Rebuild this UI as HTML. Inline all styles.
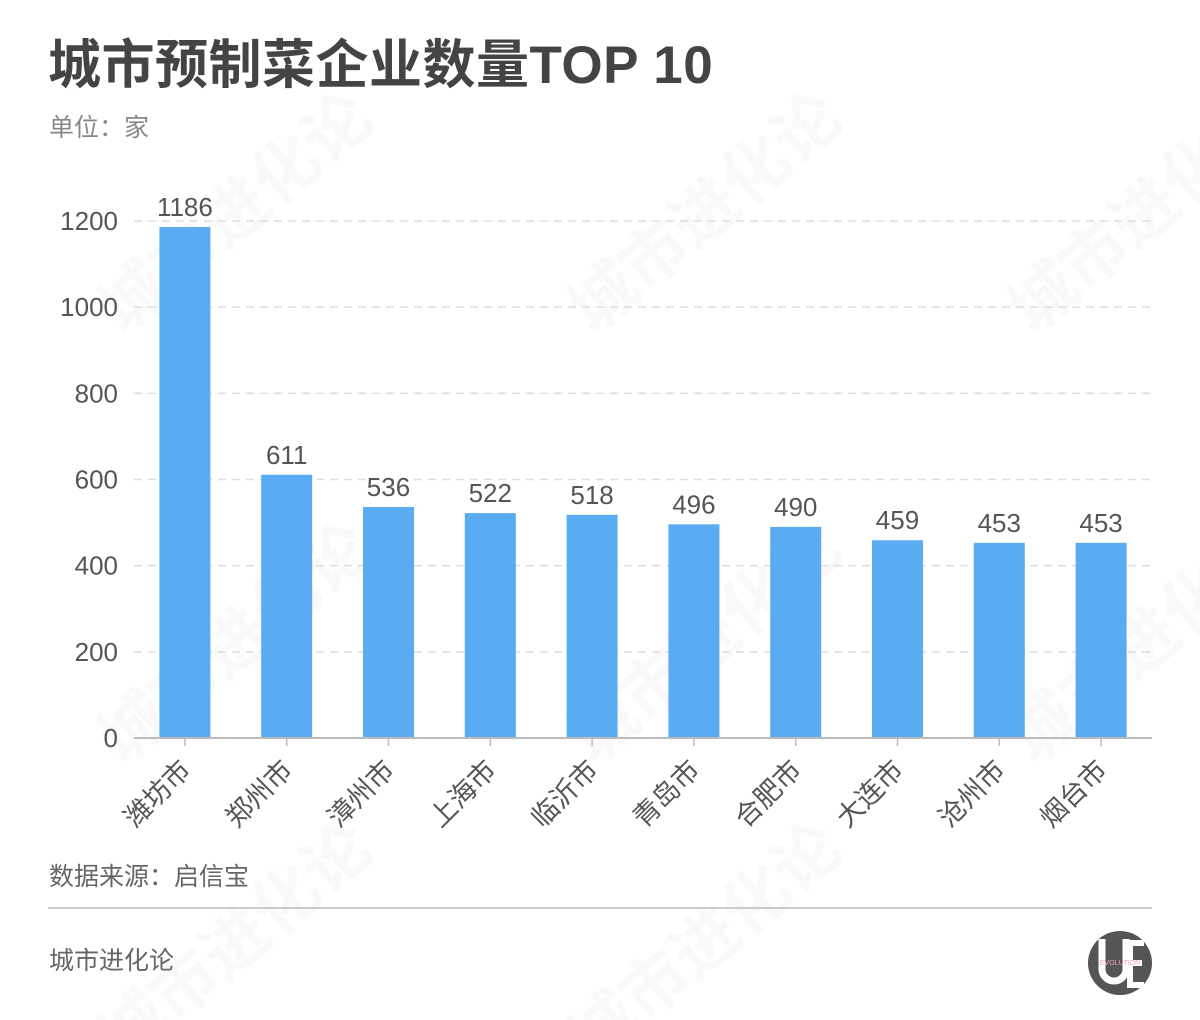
<!DOCTYPE html>
<html><head><meta charset="utf-8">
<style>
html,body{margin:0;padding:0;background:#fff;}
body{width:1200px;height:1020px;position:relative;overflow:hidden;font-family:"Liberation Sans","Noto Sans CJK SC",sans-serif;}
.t{position:absolute;white-space:nowrap;}
svg{overflow:hidden;}
</style></head>
<body>
<div class="t" style="left:48px;top:36px;font-size:53px;font-weight:bold;color:#444;line-height:60px;letter-spacing:0.5px;">城市预制菜企业数量TOP 10</div>
<div class="t" style="left:49px;top:112px;font-size:25px;color:#888;line-height:32px;">单位：家</div>
<svg id="chart" width="1200" height="1020" style="position:absolute;left:0;top:0;"></svg>
<div class="t" style="left:49px;top:860px;font-size:25px;color:#666;line-height:34px;">数据来源：启信宝</div>
<div style="position:absolute;left:48px;top:907px;width:1104px;height:2px;background:#ccc;"></div>
<div class="t" style="left:49px;top:944px;font-size:25px;color:#666;line-height:34px;">城市进化论</div>
<svg width="70" height="70" style="position:absolute;left:1086px;top:929px;">
<circle cx="34" cy="34" r="32" fill="#555"/>
<path d="M16 10 V40 A12 12 0 0 0 40 40 V10" fill="none" stroke="#fff" stroke-width="7"/>
<path d="M58 14 H44 V56 H58 M44 34 H56" fill="none" stroke="#fff" stroke-width="6"/>
<text x="34" y="36" font-size="7" fill="#f4a6c8" text-anchor="middle" font-family="Liberation Sans">EVOLUTION</text>
</svg>
<script>
const categories=["潍坊市","郑州市","漳州市","上海市","临沂市","青岛市","合肥市","大连市","沧州市","烟台市"];
const values=[1186,611,536,522,518,496,490,459,453,453];
const ticks=[0,200,400,600,800,1000,1200];
const NS="http://www.w3.org/2000/svg";
const svg=document.getElementById('chart');
const x0=134,x1=1152,y0=738,yTop=221,maxV=1200;
const bw=(x1-x0)/categories.length;
const ys=v=>y0-(v/maxV)*(y0-yTop);
const xc=i=>x0+bw*(i+0.5);
function mk(tag,attrs,txt){const e=document.createElementNS(NS,tag);for(const k in attrs)e.setAttribute(k,attrs[k]);if(txt!==undefined)e.textContent=txt;svg.appendChild(e);return e;}
const wm=[[250,230],[720,230],[1160,230],[250,660],[720,660],[1160,660],[250,960],[720,960]];
wm.forEach(p=>{
const g=mk('text',{x:p[0],y:p[1],transform:`rotate(-40 ${p[0]} ${p[1]})`,'font-size':66,'font-weight':'bold',fill:'#000','fill-opacity':0.025,'text-anchor':'middle'},'城市进化论');


});
ticks.forEach(t=>{
const y=ys(t);
if(t>0){const l=mk('line',{x1:x0,x2:x1,y1:y,y2:y,stroke:'#ddd','stroke-width':1.5,'stroke-dasharray':'8,6'});

}
const tx=mk('text',{x:118,y:y+9,'font-size':26,fill:'#555','text-anchor':'end'},t);


});
values.forEach((v,i)=>{
const w=51,x=xc(i)-w/2,y=ys(v);
const r=mk('rect',{x:x,y:y,width:w,height:y0-y,fill:'#5aacf2'});


const lb=mk('text',{x:xc(i),y:y-11,'font-size':26,fill:'#555','text-anchor':'middle'},v);


const tk=mk('line',{x1:xc(i),x2:xc(i),y1:y0,y2:y0+8,stroke:'#bbb','stroke-width':1.5});


const cx=xc(i)-6,cy=y0+20;
const cl=mk('text',{x:cx,y:cy,'font-size':27,fill:'#555','text-anchor':'end',transform:`rotate(-45 ${cx} ${cy})`,'dominant-baseline':'hanging'},categories[i]);


});
const ax=mk('line',{x1:x0,x2:x1,y1:y0,y2:y0,stroke:'#bbb','stroke-width':2});


</script>
</body></html>
